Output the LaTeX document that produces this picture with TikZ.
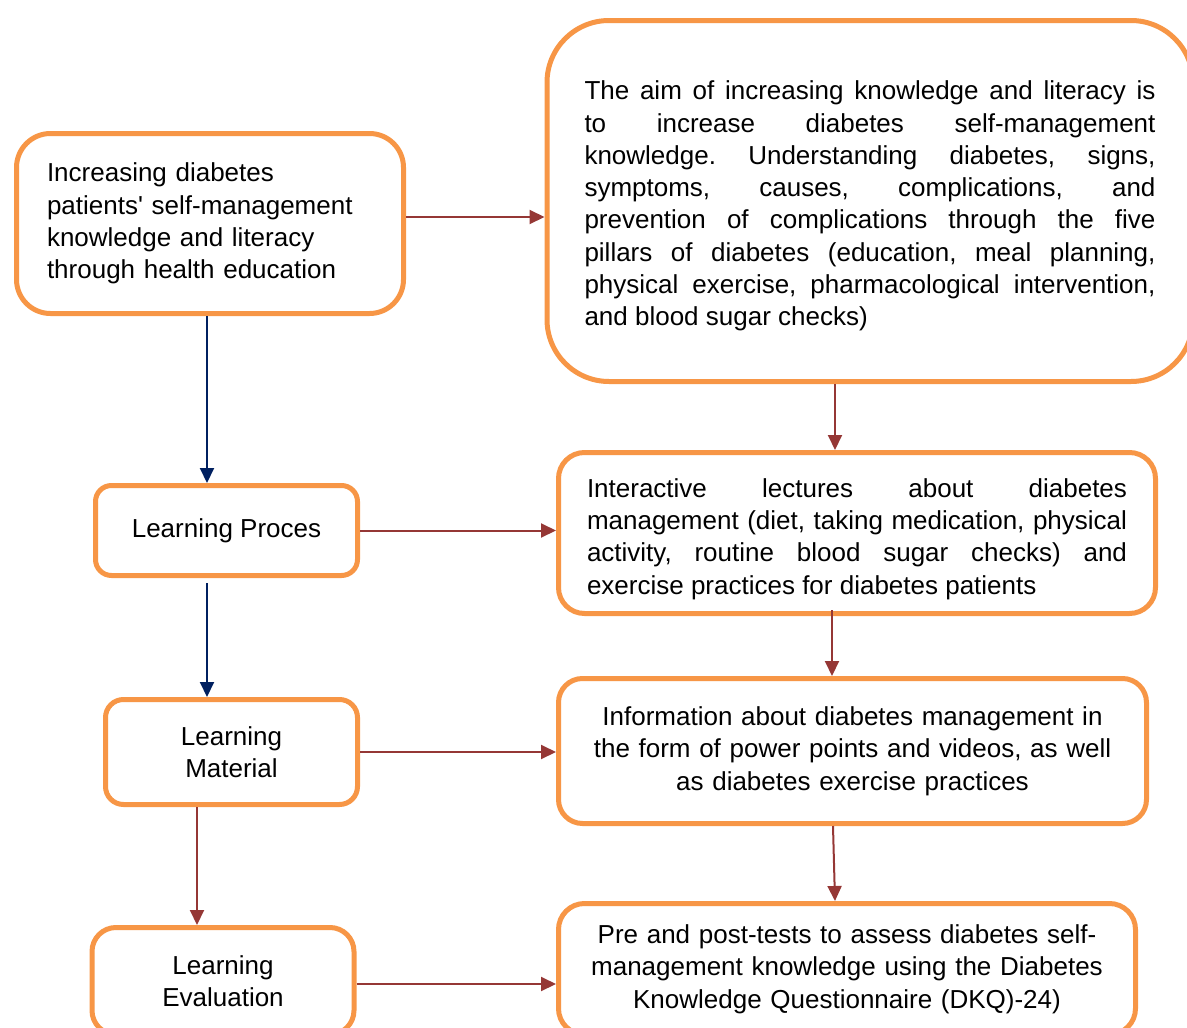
\documentclass[tikz,border=0pt]{standalone}
\usepackage{fontspec}
\setmainfont{Liberation Sans}
\usetikzlibrary{arrows.meta, positioning}
\definecolor{boxorange}{HTML}{F79646}
\definecolor{arrowred}{HTML}{953735}
\definecolor{arrownavy}{HTML}{002060}

\begin{document}
\begin{tikzpicture}[
  x=1pt, y=-1pt,
  redarrow/.style={draw=arrowred, line width=2pt, -{Triangle[length=15pt,width=14pt]}},
  navyarrow/.style={draw=arrownavy, line width=2pt, -{Triangle[length=15pt,width=14pt]}}
]
\tikzstyle{stage}=[draw=boxorange, line width=5pt, fill=white, inner ysep=0pt,
  font=\fontsize{26}{32.3}\selectfont]
\tikzstyle{blocktext}=[align=justify,
  execute at begin node={\tolerance=10000\hyphenpenalty=10000\frenchspacing}]
\useasboundingbox (0,0) rectangle (1187,1028);

% left column
\node [stage, rounded corners=34pt, minimum width=387pt, minimum height=180pt,
  text width=326pt, inner xsep=30pt, align=left] (goal) at (210,223.5)
  {Increasing diabetes\\ patients\textquotesingle{} self-management\\ knowledge and literacy\\ through health education};
\node [stage, rounded corners=16pt, minimum width=262pt, minimum height=90pt, align=center]
  (process) at (226.5,530.5) {Learning Proces};
\node [stage, rounded corners=18pt, minimum width=252pt, minimum height=105pt, align=center]
  (material) at (231.5,752) {Learning\\ Material};
\node [stage, rounded corners=24pt, minimum width=262pt, minimum height=107pt, align=center]
  (evaluation) at (223,981) {Learning\\ Evaluation};

% right column
\node [stage, blocktext, rounded corners=62pt, minimum width=646pt, minimum height=361pt,
  text width=571pt, inner xsep=37pt] (aim) at (870,201)
  {\rule{0pt}{29pt}The aim of increasing knowledge and literacy is\linebreak
  to increase diabetes self-management\linebreak
  knowledge. Understanding diabetes, signs,\linebreak
  symptoms, causes, complications, and\linebreak
  prevention of complications through the five\linebreak
  pillars of diabetes (education, meal planning,\linebreak
  physical exercise, pharmacological intervention,\linebreak
  and blood sugar checks)};
\node [stage, blocktext, rounded corners=26pt, minimum width=597pt, minimum height=161pt,
  text width=540pt, inner xsep=28pt] (lecture) at (857,533)
  {\rule{0pt}{31pt}Interactive lectures about diabetes\linebreak
  management (diet, taking medication, physical\linebreak
  activity, routine blood sugar checks) and\linebreak
  exercise practices for diabetes patients};
\node [stage, rounded corners=24pt, minimum width=588pt, minimum height=145pt,
  text width=550pt, inner xsep=19pt, align=center] (media) at (852.5,751)
  {Information about diabetes management in\\ the form of power points and videos, as well\\ as diabetes exercise practices};
\node [stage, rounded corners=26pt, minimum width=577pt, minimum height=131pt,
  text width=540pt, inner xsep=18pt, align=center] (test) at (847,969)
  {Pre and post-tests to assess diabetes self-\\ management knowledge using the Diabetes\\ Knowledge Questionnaire (DKQ)-24)};

% connectors
\coordinate (leftx) at (207,0);
\coordinate (lowx) at (197,0);
\coordinate (aimx) at (835,0);
\coordinate (lecx) at (832,0);
\coordinate (medx) at (833,0);

\draw [redarrow] ([yshift=6.5pt]goal.east) -- ([yshift=6.5pt]goal.east -| aim.west);
\draw [redarrow] (process.east) -- (process.east -| lecture.west);
\draw [redarrow] (material.east) -- (material.east -| media.west);
\draw [redarrow] ([yshift=-3pt]evaluation.east) -- ([yshift=-3pt]evaluation.east -| test.west);

\draw [navyarrow] (goal.south -| leftx) -- (process.north -| leftx);
\draw [navyarrow] ([yshift=-5pt]process.south -| leftx) -- (material.north -| leftx);
\draw [redarrow] (material.south -| lowx) -- (evaluation.north -| lowx);

\draw [redarrow] (aim.south -| aimx) -- (lecture.north -| aimx);
\draw [redarrow] ([yshift=6pt]lecture.south -| lecx) -- (media.north -| lecx);
\draw [redarrow] (media.south -| medx) -- (test.north -| aimx);

\end{tikzpicture}
\end{document}
